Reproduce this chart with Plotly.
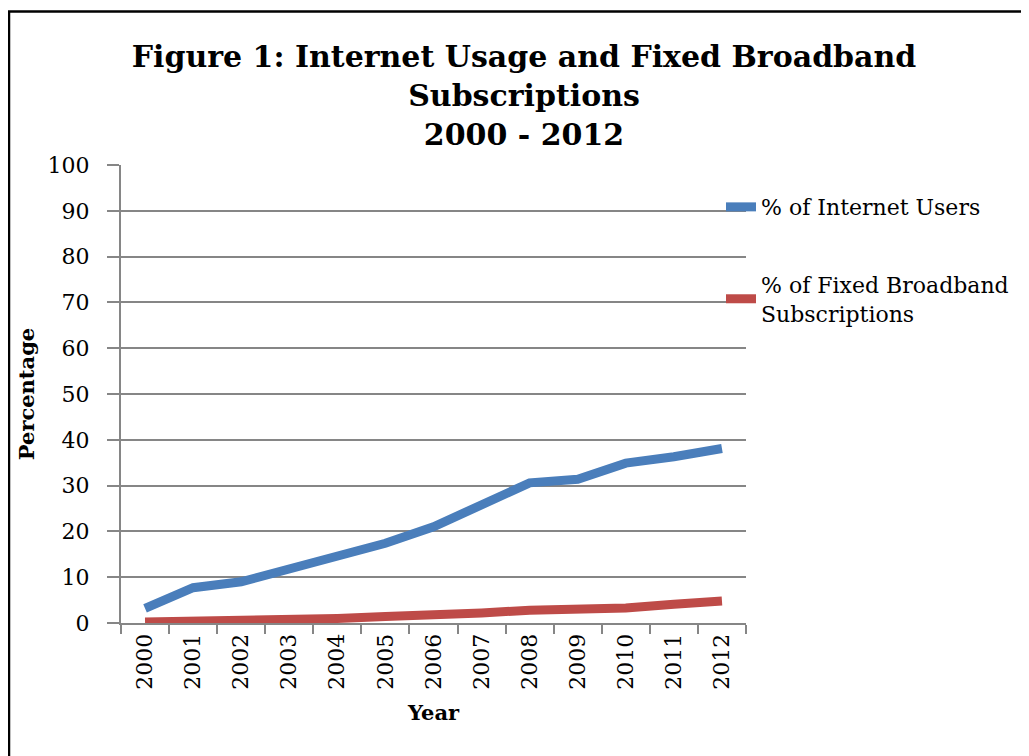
import plotly.graph_objects as go

years = ["2000", "2001", "2002", "2003", "2004", "2005", "2006",
         "2007", "2008", "2009", "2010", "2011", "2012"]
internet_users = [3.2, 7.7, 9.0, 11.9, 14.4, 17.4, 21.0, 25.8, 30.6, 31.4, 34.9, 36.3, 38.1]
fixed_broadband = [0.2, 0.3, 0.5, 0.7, 1.0, 1.4, 1.7, 2.2, 2.8, 3.1, 3.3, 4.1, 4.8]

series_names = ["% of Internet Users", "% of Fixed Broadband<br>Subscriptions"]
colors = ["#4A7EBB", "#BE4B48"]

FONT = "DejaVu Serif"
GRID = "#868686"

fig = go.Figure()
for i, (name, vals) in enumerate(zip(series_names, [internet_users, fixed_broadband])):
    fig.add_trace(go.Scatter(
        x=years, y=vals, mode="lines", name=name, legendgroup=str(i),
        line=dict(color=colors[i], width=9),
    ))

fig.update_layout(
    width=1029, height=756,
    margin=dict(l=113, r=291, t=157, b=141, autoexpand=False),
    paper_bgcolor="white", plot_bgcolor="white",
    font=dict(family=FONT, color="black", size=21),
    title=dict(
        text="<b>Figure 1: Internet Usage and Fixed Broadband<br>Subscriptions<br>2000 - 2012</b>",
        x=0.5015, xanchor="center", y=0.922, yanchor="middle",
        font=dict(family=FONT, size=30, color="black"),
    ),
    showlegend=True,
    legend=dict(
        x=0.96, xanchor="left", y=0.954, yanchor="top",
        font=dict(family=FONT, size=22, color="black"),
        bgcolor="rgba(0,0,0,0)", tracegroupgap=46, traceorder="grouped",
        itemwidth=30,
    ),
    xaxis=dict(
        type="category", range=[-0.5, 12.5], tickson="boundaries", ticks="outside", ticklen=9,
        tickcolor=GRID, tickwidth=2, showline=True, linecolor=GRID, linewidth=2,
        showgrid=False, tickangle=-90, tickfont=dict(family=FONT, size=22), automargin=False,
        title=dict(text="<b>Year</b>", font=dict(family=FONT, size=21), standoff=17),
    ),
    yaxis=dict(
        range=[0, 100], dtick=10, ticks="outside", ticklen=12, tickcolor=GRID,
        tickwidth=2, showline=True, linecolor=GRID, linewidth=2,
        showgrid=True, gridcolor=GRID, gridwidth=2, zeroline=False, automargin=False,
        tickfont=dict(family=FONT, size=22), ticklabelstandoff=13,
        title=dict(text="<b>Percentage</b>", font=dict(family=FONT, size=21), standoff=7),
    ),
    shapes=[dict(
        type="rect", xref="paper", yref="paper",
        x0=(8 - 120) / 625, x1=1.6, y0=-0.5, y1=(623 - 11.5) / 458,
        line=dict(color="black", width=2.5), fillcolor="rgba(0,0,0,0)", layer="above",
    )],
)

fig.write_html("out.html")
